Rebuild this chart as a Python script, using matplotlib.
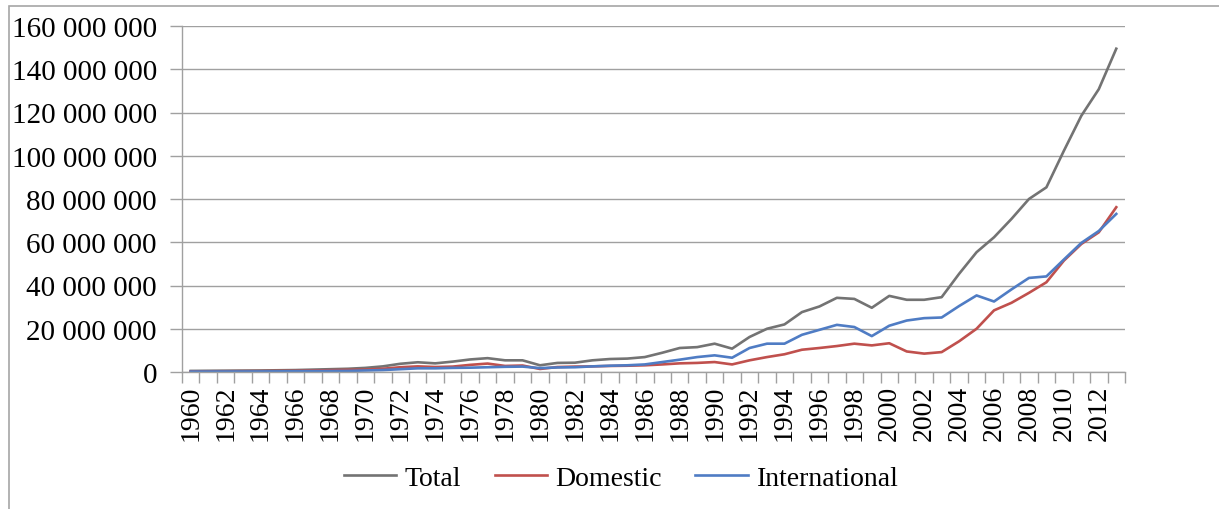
import matplotlib.pyplot as plt
from matplotlib.patches import Rectangle
from matplotlib.ticker import FuncFormatter

years = list(range(1960, 2014))

# millions of passengers
total = [0.5, 0.55, 0.6, 0.65, 0.7, 0.8, 0.9, 1.1, 1.3, 1.5,
         1.9, 2.6, 3.8, 4.5, 4.0, 4.8, 5.8, 6.4, 5.4, 5.4,
         3.1, 4.2, 4.3, 5.4, 6.0, 6.2, 6.9, 8.9, 11.1, 11.5,
         13.1, 10.8, 16.2, 20.0, 22.0, 27.7, 30.3, 34.3, 33.8, 29.7,
         35.2, 33.4, 33.4, 34.6, 45.4, 55.4, 62.3, 70.8, 80.0, 85.4,
         102.3, 118.5, 130.8, 149.5]
domestic = [0.3, 0.33, 0.36, 0.4, 0.43, 0.5, 0.55, 0.7, 0.85, 1.0,
            1.1, 1.5, 2.2, 2.6, 2.3, 2.5, 3.3, 3.9, 2.8, 3.0,
            1.4, 2.3, 2.5, 2.6, 2.8, 2.9, 3.1, 3.5, 4.0, 4.2,
            4.6, 3.5, 5.4, 6.9, 8.2, 10.3, 11.1, 12.0, 13.1, 12.3,
            13.3, 9.5, 8.5, 9.2, 14.2, 20.0, 28.5, 32.0, 36.6, 41.5,
            51.5, 59.2, 64.6, 76.2]
international = [0.2, 0.22, 0.24, 0.25, 0.27, 0.3, 0.35, 0.4, 0.45, 0.5,
                 0.7, 0.9, 1.3, 1.7, 1.7, 1.9, 2.0, 2.2, 2.4, 2.5,
                 1.8, 2.1, 2.2, 2.6, 2.9, 3.1, 3.5, 4.6, 5.7, 6.9,
                 7.7, 6.6, 11.1, 13.1, 13.1, 17.2, 19.5, 21.8, 20.8, 16.6,
                 21.4, 23.8, 24.9, 25.2, 30.5, 35.4, 32.6, 38.2, 43.5, 44.2,
                 52.0, 59.7, 65.2, 73.1]

series = [("Total", total, "#737373"),
          ("Domestic", domestic, "#c0504d"),
          ("International", international, "#4f7cc4")]

plt.rcParams["font.family"] = ["Liberation Serif", "DejaVu Serif"]

fig = plt.figure(figsize=(12.19, 5.10), dpi=100)
ax = fig.add_axes([182 / 1219, 1 - 373 / 510, (1125 - 182) / 1219, (373 - 27) / 510])

# chart frame
fig.patches.append(Rectangle((9 / 1219, -0.05), 1.2, 1 - 7 / 510 + 0.05,
                             transform=fig.transFigure, fill=False,
                             edgecolor="#a6a6a6", linewidth=1.2))

x = list(range(len(years)))
for name, vals, col in series:
    ax.plot(x, [v * 1e6 for v in vals], color=col, linewidth=1.9, label=name)

ax.set_xlim(-0.5, len(years) - 0.5)
ax.set_ylim(0, 160e6)
ax.set_yticks([i * 20e6 for i in range(9)])
ax.yaxis.set_major_formatter(FuncFormatter(lambda v, p: f"{int(v):,}".replace(",", " ")))
ax.grid(axis="y", color="#a0a0a0", linewidth=1.0)
ax.set_axisbelow(True)

# boundary ticks between categories, labels every other year
ax.set_xticks([i - 0.5 for i in range(len(years) + 1)], minor=True)
ax.set_xticks(x[::2])
ax.set_xticklabels([str(y) for y in years[::2]], rotation=90)
ax.tick_params(axis="x", which="major", length=0, pad=9, labelsize=20)
ax.tick_params(axis="x", which="minor", length=8, color="#a0a0a0", width=1)
ax.tick_params(axis="y", length=9, color="#a0a0a0", width=1, labelsize=21, pad=9)

for s in ["top", "right"]:
    ax.spines[s].set_visible(False)
for s in ["left", "bottom"]:
    ax.spines[s].set_color("#a0a0a0")
    ax.spines[s].set_linewidth(1.0)

fig.legend(loc="center", bbox_to_anchor=(621 / 1219, 1 - 479 / 510), ncol=3,
           frameon=False, fontsize=20, handlelength=1.9, handletextpad=0.3,
           columnspacing=1.2)

fig.savefig("out.png", dpi=100)
